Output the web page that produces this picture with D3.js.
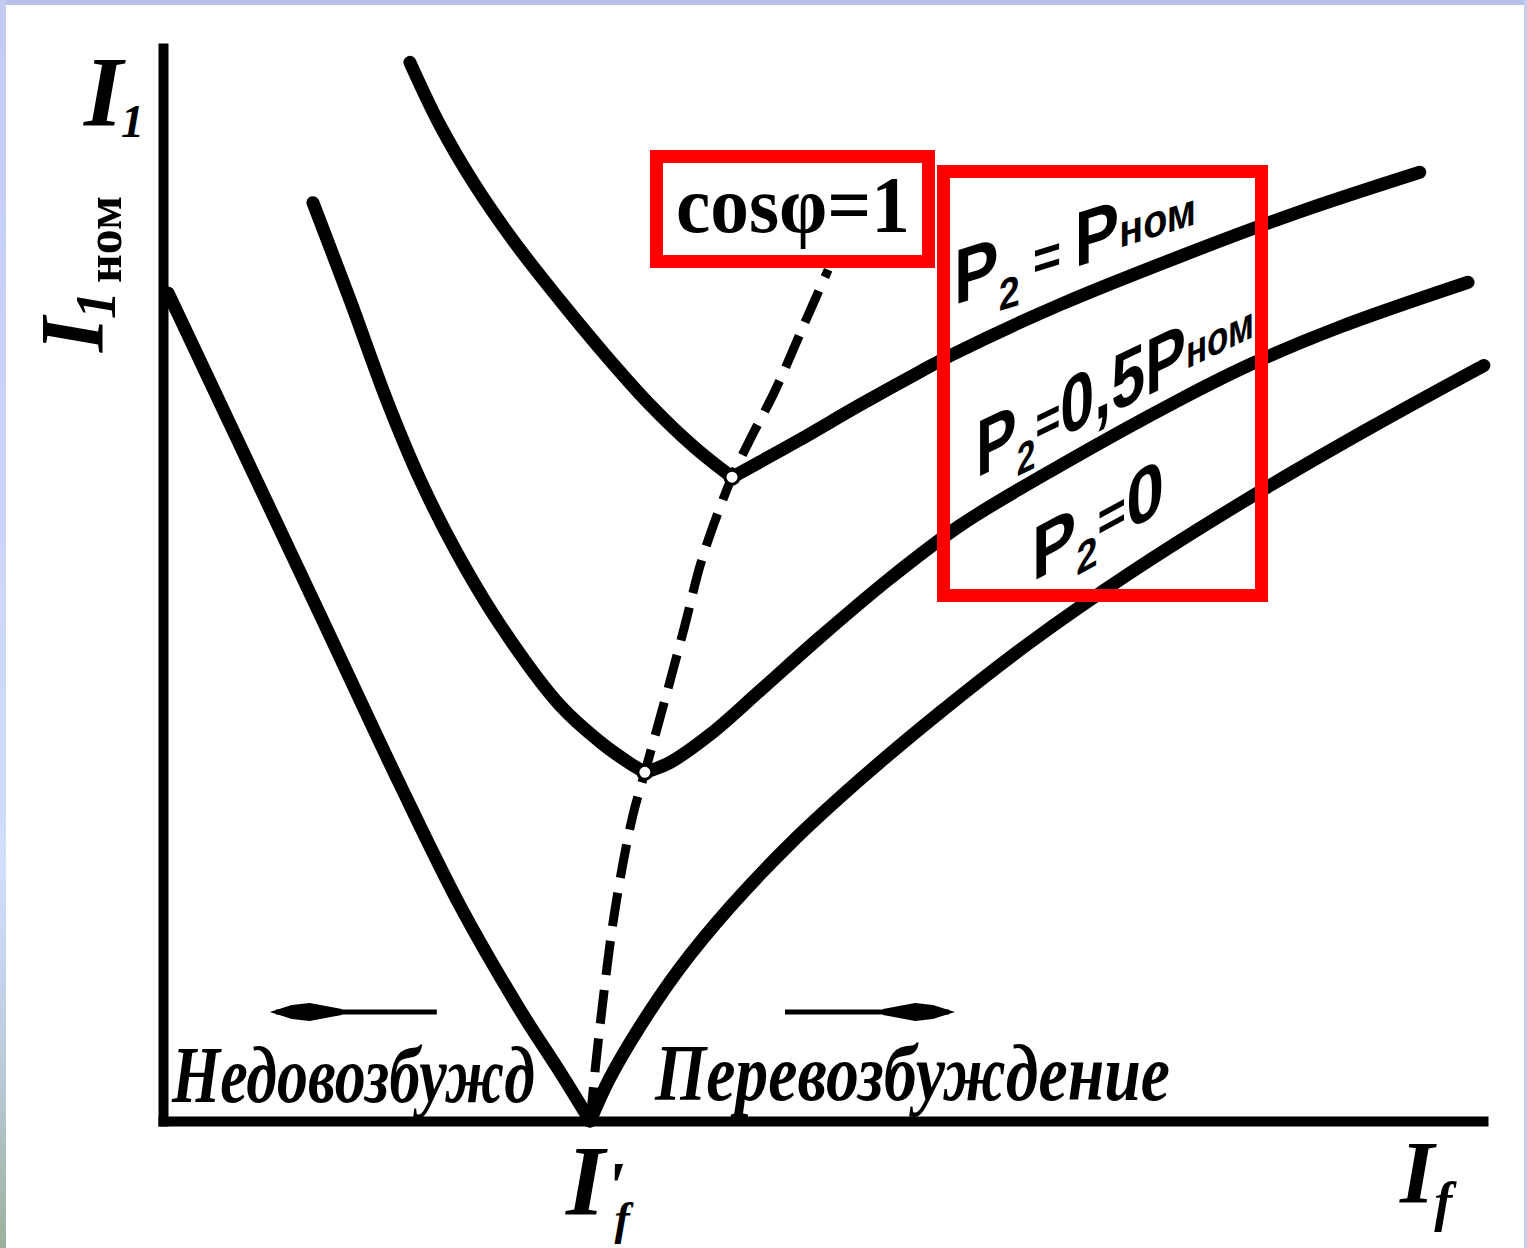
<!DOCTYPE html>
<html>
<head>
<meta charset="utf-8">
<script src="https://cdn.jsdelivr.net/npm/d3@7"></script>
<style>
  html, body { margin: 0; padding: 0; background: #fff; }
  svg { display: block; }
  .serif { font-family: "Liberation Serif", "DejaVu Serif", serif; font-weight: bold; }
  .plabel { font-family: "Liberation Sans", "DejaVu Sans", sans-serif; font-weight: bold; }
</style>
</head>
<body>
<svg id="chart" width="1527" height="1248"></svg>
<script>
// U-shaped (V) curves of a synchronous motor:
// stator current I1 against field current If for three shaft loads.
// If is measured in units of I'f, I1 in units of I1nom.

const fieldRange = [0, 3.09];
const currentRange = [0, 1.2];

// P2 = 0 (no load)
const p2ZeroLeft = [[0.012, 0.926], [0.180, 0.756], [0.368, 0.566], [0.555, 0.376],
  [0.695, 0.241], [0.836, 0.124], [0.929, 0.055], [1.0, 0]];
const p2ZeroRight = [[1.0, 0], [1.046, 0.048], [1.117, 0.106], [1.210, 0.171],
  [1.327, 0.239], [1.468, 0.310], [1.632, 0.382], [1.819, 0.457], [2.029, 0.535],
  [2.264, 0.613], [2.554, 0.700], [2.825, 0.775], [3.092, 0.845]];

// P2 = 0.5 Pnom
const p2HalfLeft = [[0.351, 1.027], [0.438, 0.918], [0.524, 0.806], [0.602, 0.717],
  [0.684, 0.639], [0.789, 0.555], [0.929, 0.465], [1.023, 0.424], [1.093, 0.400],
  [1.128, 0.390]];
const p2HalfRight = [[1.128, 0.390], [1.187, 0.401], [1.280, 0.432], [1.397, 0.481],
  [1.538, 0.541], [1.702, 0.607], [1.866, 0.666], [2.100, 0.733], [2.381, 0.807],
  [2.554, 0.848], [2.755, 0.888], [3.055, 0.938]];

// P2 = Pnom
const p2NomLeft = [[0.578, 1.184], [0.648, 1.114], [0.730, 1.047], [0.824, 0.982],
  [0.929, 0.918], [1.035, 0.857], [1.140, 0.801], [1.245, 0.753], [1.332, 0.720]];
const p2NomRight = [[1.332, 0.720], [1.397, 0.737], [1.491, 0.762], [1.632, 0.801],
  [1.772, 0.838], [1.847, 0.857], [2.100, 0.913], [2.381, 0.967], [2.662, 1.017],
  [2.942, 1.061]];

// locus of minimum current, cos phi = 1
const unityPf = [[1.0, 0], [1.014, 0.068], [1.030, 0.135], [1.051, 0.214],
  [1.074, 0.281], [1.100, 0.342], [1.128, 0.390], [1.175, 0.471], [1.222, 0.555],
  [1.259, 0.624], [1.299, 0.680], [1.332, 0.720], [1.374, 0.762], [1.433, 0.817],
  [1.498, 0.888], [1.557, 0.952]];

// minima of the loaded curves, where they cross the cos phi = 1 line
const minima = [p2HalfLeft[p2HalfLeft.length - 1], p2NomLeft[p2NomLeft.length - 1]];

// region arrows (If from, If to, I1 level)
const underArrow = [0.641, 0.250, 0.122];
const overArrow = [1.456, 1.854, 0.122];

const curveBranches = [p2ZeroLeft, p2ZeroRight, p2HalfLeft, p2HalfRight, p2NomLeft, p2NomRight];

const svg = d3.select("#chart");

// ---- page frame ----
const defs = svg.append("defs");
const grad = defs.append("linearGradient").attr("id", "edge")
  .attr("x1", 0).attr("y1", 0).attr("x2", 0).attr("y2", 1);
grad.append("stop").attr("offset", "0%").attr("stop-color", "#c3cbf1");
grad.append("stop").attr("offset", "70%").attr("stop-color", "#d2dcfe");
grad.append("stop").attr("offset", "86%").attr("stop-color", "#bccad8");
grad.append("stop").attr("offset", "100%").attr("stop-color", "#9bb09c");

svg.append("rect").attr("width", 1527).attr("height", 1248).attr("fill", "#fff");
svg.append("rect").attr("x", 0).attr("y", 0).attr("width", 1527).attr("height", 5).attr("fill", "#b7c0ea");
svg.append("rect").attr("x", 0).attr("y", 0).attr("width", 6).attr("height", 1248).attr("fill", "url(#edge)");
svg.append("rect").attr("x", 1524).attr("y", 0).attr("width", 3).attr("height", 1248).attr("fill", "#c6cef2");

// ---- scales & axes ----
const x = d3.scaleLinear().domain(fieldRange).range([163, 1483]);
const y = d3.scaleLinear().domain(currentRange).range([1121, 48]);

const styleDomain = g => g.select(".domain")
  .attr("stroke", "#000").attr("stroke-width", 10).attr("stroke-linecap", "square");

svg.append("g").attr("transform", `translate(0,${y(0)})`)
  .call(d3.axisBottom(x).tickValues([]).tickSizeOuter(0))
  .call(styleDomain);
svg.append("g").attr("transform", `translate(${x(0)},0)`)
  .call(d3.axisLeft(y).tickValues([]).tickSizeOuter(0))
  .call(styleDomain);

// ---- curves ----
const line = d3.line()
  .x(d => x(d[0])).y(d => y(d[1]))
  .curve(d3.curveCatmullRom.alpha(0.5));

svg.append("g").selectAll("path").data(curveBranches).join("path")
  .attr("d", line)
  .attr("fill", "none").attr("stroke", "#000")
  .attr("stroke-width", 13).attr("stroke-linecap", "round").attr("stroke-linejoin", "round");

svg.append("path").datum(unityPf)
  .attr("d", line)
  .attr("fill", "none").attr("stroke", "#000")
  .attr("stroke-width", 9).attr("stroke-dasharray", "34,15");

svg.append("g").selectAll("circle").data(minima).join("circle")
  .attr("cx", d => x(d[0])).attr("cy", d => y(d[1])).attr("r", 7)
  .attr("fill", "#fff").attr("stroke", "#000").attr("stroke-width", 3);

// ---- region arrows ----
function arrow(spec) {
  const [from, to, level] = spec;
  const x0 = x(from), x1 = x(to), yy = y(level);
  const dir = Math.sign(x1 - x0);
  svg.append("line").attr("x1", x0).attr("y1", yy).attr("x2", x1 - dir * 6).attr("y2", yy)
    .attr("stroke", "#000").attr("stroke-width", 5);
  const pts = [[x1, yy], [x1 - dir * 22, yy - 7], [x1 - dir * 40, yy - 9], [x1 - dir * 72, yy - 3],
               [x1 - dir * 72, yy + 3], [x1 - dir * 40, yy + 9], [x1 - dir * 22, yy + 7]];
  svg.append("path").attr("d", "M" + pts.join("L") + "Z").attr("fill", "#000");
}
arrow(underArrow);
arrow(overArrow);

svg.append("text").attr("class", "serif").attr("font-style", "italic")
  .attr("x", 172).attr("y", 1102).attr("font-size", 80)
  .attr("textLength", 363).attr("lengthAdjust", "spacingAndGlyphs")
  .text("Недовозбужд");
svg.append("text").attr("class", "serif").attr("font-style", "italic")
  .attr("x", 655).attr("y", 1100).attr("font-size", 80)
  .attr("textLength", 515).attr("lengthAdjust", "spacingAndGlyphs")
  .text("Перевозбуждение");

// ---- axis titles ----
const topTitle = svg.append("text").attr("class", "serif").attr("font-style", "italic")
  .attr("x", 84).attr("y", 125);
topTitle.append("tspan").attr("font-size", 100).text("I");
topTitle.append("tspan").attr("font-size", 46).attr("dy", 12).attr("dx", -2).text("1");

const sideTitle = svg.append("g").attr("transform", "translate(103,352) rotate(-90)")
  .append("text").attr("class", "serif");
sideTitle.append("tspan").attr("font-size", 90).attr("font-style", "italic").text("I");
sideTitle.append("tspan").attr("font-size", 56).attr("font-style", "italic").attr("dy", 12).attr("dx", -2).text("1");
sideTitle.append("tspan").attr("font-size", 50).attr("dy", 6).attr("dx", 8).text("ном");

const fieldMark = svg.append("text").attr("class", "serif").attr("font-style", "italic")
  .attr("x", 566).attr("y", 1214);
fieldMark.append("tspan").attr("font-size", 100).text("I");
fieldMark.append("tspan").attr("font-size", 70).attr("dy", -4).attr("dx", 0).text("'");
fieldMark.append("tspan").attr("font-size", 46).attr("dy", 24).attr("dx", -10).text("f");

const fieldTitle = svg.append("text").attr("class", "serif").attr("font-style", "italic")
  .attr("x", 1400).attr("y", 1202);
fieldTitle.append("tspan").attr("font-size", 88).text("I");
fieldTitle.append("tspan").attr("font-size", 54).attr("dy", 18).attr("dx", 0).text("f");

// ---- load labels, slanted along the curves ----
function slantLabel(parts, x0, y0, slope, width) {
  const g = svg.append("g")
    .attr("transform", `translate(${x0},${y0}) skewY(${Math.atan(slope) * 180 / Math.PI})`);
  const t = g.append("text").attr("class", "plabel");
  parts.forEach(p => t.append("tspan")
    .attr("font-size", p.size).attr("dy", p.dy || 0).attr("dx", p.dx || 0).text(p.text));
  const w = t.node().getBBox().width;
  t.attr("transform", `scale(${width / w},1)`);
}

slantLabel([
  { text: "P", size: 78 },
  { text: "2", size: 44, dy: 20 },
  { text: " = ", size: 56, dy: -20 },
  { text: "P", size: 78 },
  { text: "ном", size: 46, dy: -6 }
], 954, 305, -0.31, 242);

slantLabel([
  { text: "P", size: 80 },
  { text: "2", size: 44, dy: 18 },
  { text: "=", size: 56, dy: -22 },
  { text: "0,5", size: 80, dy: 4 },
  { text: "P", size: 80 },
  { text: "ном", size: 46, dy: -8 }
], 976, 478, -0.48, 278);

slantLabel([
  { text: "P", size: 76 },
  { text: "2", size: 44, dy: 18 },
  { text: "=", size: 56, dy: -22 },
  { text: "0", size: 78, dy: 4 }
], 1032, 582, -0.54, 132);

// ---- highlight frames ----
svg.append("rect").attr("x", 656.5).attr("y", 156.5).attr("width", 272).attr("height", 105)
  .attr("fill", "none").attr("stroke", "#ff0000").attr("stroke-width", 13);
svg.append("rect").attr("x", 943.5).attr("y", 171.5).attr("width", 318).attr("height", 424)
  .attr("fill", "none").attr("stroke", "#ff0000").attr("stroke-width", 13);

svg.append("text").attr("class", "serif")
  .attr("x", 676).attr("y", 232).attr("font-size", 80)
  .attr("textLength", 234).attr("lengthAdjust", "spacingAndGlyphs")
  .text("cosφ=1");
</script>
</body>
</html>
